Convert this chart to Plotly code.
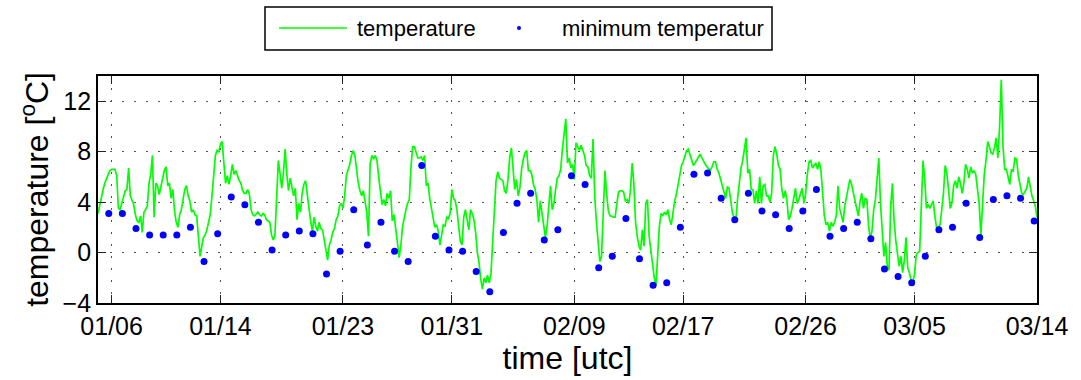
import pandas as pd
import plotly.graph_objects as go

# 3-hourly air temperature [deg C], one row per day, starting 2012-01-05 00:00
temperature = [
    3.1, 3.8, 4.4, 5.0, 5.5, 5.9, 6.2, 6.5,
    6.6, 6.6, 6.6, 6.1, 3.5, 3.4, 3.9, 4.6,
    4.9, 5.0, 6.7, 4.5, 4.2, 3.8, 3.0, 2.5,
    2.4, 2.9, 1.6, 3.2, 3.4, 3.7, 5.5, 6.2,
    7.7, 2.8, 5.5, 5.3, 4.6, 5.3, 6.1, 6.5,
    6.8, 5.3, 5.5, 4.3, 5.0, 3.3, 2.4, 2.0,
    3.0, 3.4, 4.2, 5.0, 5.3, 4.5, 4.1, 3.2,
    3.4, 3.0, 2.9, 1.3, -0.3, 0.5, 1.2, 1.4,
    1.8, 2.4, 3.0, 4.5, 5.9, 7.7, 8.1, 8.0,
    8.6, 8.8, 7.1, 5.5, 6.1, 5.4, 6.1, 7.0,
    6.2, 6.5, 6.1, 5.7, 5.5, 4.9, 4.7, 4.7,
    5.0, 4.6, 3.4, 3.0, 2.9, 3.1, 3.2, 3.0,
    2.9, 3.1, 3.0, 2.6, 2.5, 2.4, 1.4, 1.0,
    1.3, 4.2, 7.3, 6.3, 5.1, 6.3, 8.2, 6.2,
    4.9, 5.9, 5.1, 4.5, 5.1, 2.6, 3.9, 3.2,
    4.7, 5.4, 5.7, 4.5, 3.2, 2.5, 1.7, 2.8,
    2.1, 1.7, 2.4, 1.9, 1.8, 1.0, 0.2, -0.6,
    0.6, 1.0, 1.6, 1.9, 2.6, 2.9, 3.7, 3.9,
    3.5, 4.5, 6.1, 6.5, 7.0, 7.7, 8.1, 7.7,
    6.6, 5.5, 4.9, 4.5, 4.9, 4.2, 3.2, 1.3,
    7.1, 7.7, 7.4, 7.7, 7.3, 6.0, 5.1, 3.8,
    4.2, 3.7, 4.7, 4.3, 4.9, 2.5, 3.0, 1.6,
    0.8, -0.4, 0.5, 2.0, 2.9, 3.4, 3.9, 4.2,
    6.8, 8.4, 8.4, 8.0, 7.5, 7.5, 7.6, 7.3,
    7.7, 5.3, 5.5, 4.3, 3.5, 2.6, 2.0, 2.2,
    1.7, 0.6, 1.6, 2.2, 2.1, 2.8, 2.7, 3.1,
    5.0, 4.3, 4.1, 3.4, 2.1, 0.9, 0.6, 2.8,
    3.4, 2.4, 1.8, 3.4, 3.1, 2.6, 1.6, 0.0,
    -0.8, -2.1, -2.9, -2.0, -2.4, -1.8, -2.4, -1.7,
    0.8, 4.3, 5.7, 6.4, 5.9, 5.8, 5.7, 4.9,
    4.7, 5.8, 7.5, 8.3, 6.6, 5.0, 5.8, 4.5,
    5.1, 6.6, 7.4, 7.9, 8.1, 6.5, 6.5, 6.2,
    5.4, 5.0, 4.2, 2.4, 4.1, 3.2, 2.0, 1.2,
    2.1, 3.7, 5.3, 3.4, 3.9, 5.0, 5.9, 6.1,
    6.6, 8.2, 9.5, 10.6, 7.1, 7.5, 6.7, 7.0,
    5.8, 8.7, 8.4, 8.1, 8.5, 8.0, 7.7, 6.9,
    6.8, 6.1, 5.9, 9.0, 4.5, 2.4, 0.5, -0.7,
    -0.3, 3.7, 6.5, 4.7, 3.3, 2.9, 2.9, 2.8,
    2.8, 3.9, 4.8, 4.9, 4.9, 4.8, 4.1, 4.2,
    3.9, 4.9, 7.1, 5.5, 2.4, 1.3, 0.5, 0.2,
    1.8, 0.5, 3.9, 4.2, 1.3, 0.2, -1.0, -2.0,
    -2.6, -0.6, 2.1, 3.1, 2.9, 3.2, 3.0, 3.4,
    2.6, 2.2, 3.4, 4.1, 4.6, 5.4, 6.2, 6.9,
    7.2, 7.7, 8.1, 8.2, 7.8, 7.3, 6.9, 7.1,
    7.3, 7.6, 7.8, 7.5, 7.2, 7.0, 6.8, 6.6,
    6.5, 6.8, 7.2, 7.2, 6.6, 6.3, 5.8, 5.3,
    4.7, 4.3, 5.2, 5.1, 4.1, 3.1, 2.8, 2.6,
    4.3, 5.5, 6.7, 7.3, 8.3, 9.1, 6.3, 6.6,
    5.0, 5.0, 3.9, 4.9, 3.9, 6.0, 3.9, 5.3,
    5.4, 4.5, 4.5, 4.0, 4.7, 7.7, 8.4, 7.8,
    6.9, 6.6, 5.0, 4.3, 4.9, 4.1, 2.6, 2.9,
    3.5, 4.3, 5.1, 3.9, 4.2, 4.7, 5.1, 3.9,
    4.7, 6.2, 7.2, 7.3, 6.7, 6.9, 7.1, 6.6,
    7.2, 6.5, 5.0, 2.9, 2.2, 2.4, 1.7, 2.4,
    2.1, 2.4, 2.9, 5.3, 3.5, 2.9, 2.4, 3.7,
    4.4, 5.0, 5.8, 5.4, 4.7, 3.9, 3.5, 2.9,
    4.1, 4.7, 3.5, 4.3, 4.2, 2.1, 1.1, 1.7,
    3.4, 4.2, 6.3, 7.5, 3.9, 1.6, -0.3, 0.8,
    -1.1, -1.4, 3.7, 5.5, 2.5, 0.9, -0.2, -1.1,
    -0.3, -1.6, -0.6, 1.2, -1.2, -1.6, -2.2, -2.4,
    -1.7, -0.2, 0.0, 0.1, 3.7, 7.3, 5.8, 3.5,
    3.8, 3.5, 3.8, 4.1, 2.8, 2.0, 2.0, 2.2,
    3.4, 4.7, 6.9, 6.3, 5.0, 3.5, 3.9, 5.3,
    5.7, 5.1, 6.0, 5.5, 4.7, 5.5, 7.0, 6.6,
    5.9, 6.8, 6.3, 6.5, 6.2, 4.9, 3.9, 1.4,
    4.2, 6.2, 7.3, 8.8, 8.4, 7.9, 7.8, 8.3,
    9.1, 7.5, 10.0, 13.7, 8.5, 6.6, 6.6, 5.9,
    5.4, 6.6, 6.4, 7.5, 7.4, 6.1, 5.5, 4.7,
    4.6, 4.9, 5.1, 6.0, 5.1, 4.5, 4.1, 3.7,
    2.8,
]

# daily minimum temperature [deg C], one value per day from 2012-01-05
minimum_temperature = [
    3.1, 3.1, 1.9, 1.4, 1.4, 1.4, 2.0, -0.7, 1.5, 4.4, 3.8, 2.4, 0.2,
    1.4, 1.7, 1.5, -1.7, 0.1, 3.4, 0.6, 2.4, 0.1, -0.7,
    6.9, 1.3, 0.2, 0.1, -1.5, -3.1, 1.6, 3.9, 4.7, 1.0, 1.8, 6.1, 5.4,
    -1.2, -0.3, 2.7, -0.5, -2.6, -2.4, 2.0, 6.2, 6.3, 4.3,
    2.6, 4.7, 3.3, 3.0, 1.9, 3.3, 5.0, 1.3, 1.9, 2.4, 1.1, -1.3, -1.9,
    -2.4, -0.3, 1.8, 2.0, 3.9, 1.2, 4.2, 4.5, 4.3, 2.5,
]

tick_dates = ["2012-01-06", "2012-01-14", "2012-01-23", "2012-01-31", "2012-02-09",
              "2012-02-17", "2012-02-26", "2012-03-05", "2012-03-14"]
tick_labels = ["01/06", "01/14", "01/23", "01/31", "02/09",
               "02/17", "02/26", "03/05", "03/14"]
y_ticks = [-4, 0, 4, 8, 12]

series_names = ["temperature", "minimum temperatur"]

temp_time = pd.date_range("2012-01-05 00:00", periods=len(temperature), freq="3h")
min_time = pd.date_range("2012-01-05 19:00", periods=len(minimum_temperature), freq="D")

FONT = "Liberation Sans, Arial, Helvetica, sans-serif"
GREEN = "#00FF00"
BLUE = "#0000FF"

W, H = 1081, 380
L, R, T, B = 98, 44, 76, 77
PW, PH = W - L - R, H - T - B


def px(x):
    return (x - L) / PW


def py(y):
    return (H - B - y) / PH


fig = go.Figure()
fig.add_trace(go.Scatter(x=temp_time, y=temperature, mode="lines",
                         line=dict(color=GREEN, width=1.7),
                         name=series_names[0], showlegend=False))
fig.add_trace(go.Scatter(x=min_time, y=minimum_temperature, mode="markers",
                         marker=dict(color=BLUE, size=7, line=dict(width=0)),
                         name=series_names[1], showlegend=False))

axis_common = dict(
    showline=True, linecolor="black", linewidth=1.8, mirror="allticks",
    ticks="inside", ticklen=8, tickwidth=1.3, tickcolor="#222",
    showgrid=True, gridcolor="#555", gridwidth=1, griddash="2px,10px",
    zeroline=False, tickfont=dict(family=FONT, size=25, color="black"),
)

fig.update_xaxes(
    type="date", range=["2012-01-05", "2012-03-14"],
    tickvals=tick_dates, ticktext=tick_labels,
    title=dict(text="time [utc]", font=dict(family=FONT, size=32, color="black"), standoff=2),
    **axis_common,
)
fig.update_yaxes(
    range=[-4, 14], tickvals=y_ticks,
    title=dict(text="temperature [<sup>o</sup>C]", font=dict(family=FONT, size=32, color="black"),
               standoff=4),
    **axis_common,
)

# legend box drawn above the axes
shapes = [
    dict(type="rect", xref="paper", yref="paper",
         x0=px(265), x1=px(772), y0=py(50), y1=py(7),
         line=dict(color="black", width=1.5), fillcolor="white", layer="above"),
    dict(type="line", xref="paper", yref="paper",
         x0=px(279), x1=px(347), y0=py(28), y1=py(28),
         line=dict(color=GREEN, width=1.6)),
    dict(type="circle", xref="paper", yref="paper",
         x0=px(517), x1=px(521), y0=py(30), y1=py(26),
         line=dict(width=0), fillcolor=BLUE),
]
annotations = [
    dict(xref="paper", yref="paper", x=px(355), y=py(28.5), xanchor="left", yanchor="middle",
         text=series_names[0], showarrow=False, font=dict(family=FONT, size=22, color="black")),
    dict(xref="paper", yref="paper", x=px(560), y=py(28.5), xanchor="left", yanchor="middle",
         text=series_names[1], showarrow=False, font=dict(family=FONT, size=22, color="black")),
]

fig.update_layout(
    width=W, height=H,
    margin=dict(l=L, r=R, t=T, b=B),
    paper_bgcolor="white", plot_bgcolor="white",
    font=dict(family=FONT, color="black"),
    shapes=shapes, annotations=annotations,
    showlegend=False,
)

fig.write_html("out.html")
